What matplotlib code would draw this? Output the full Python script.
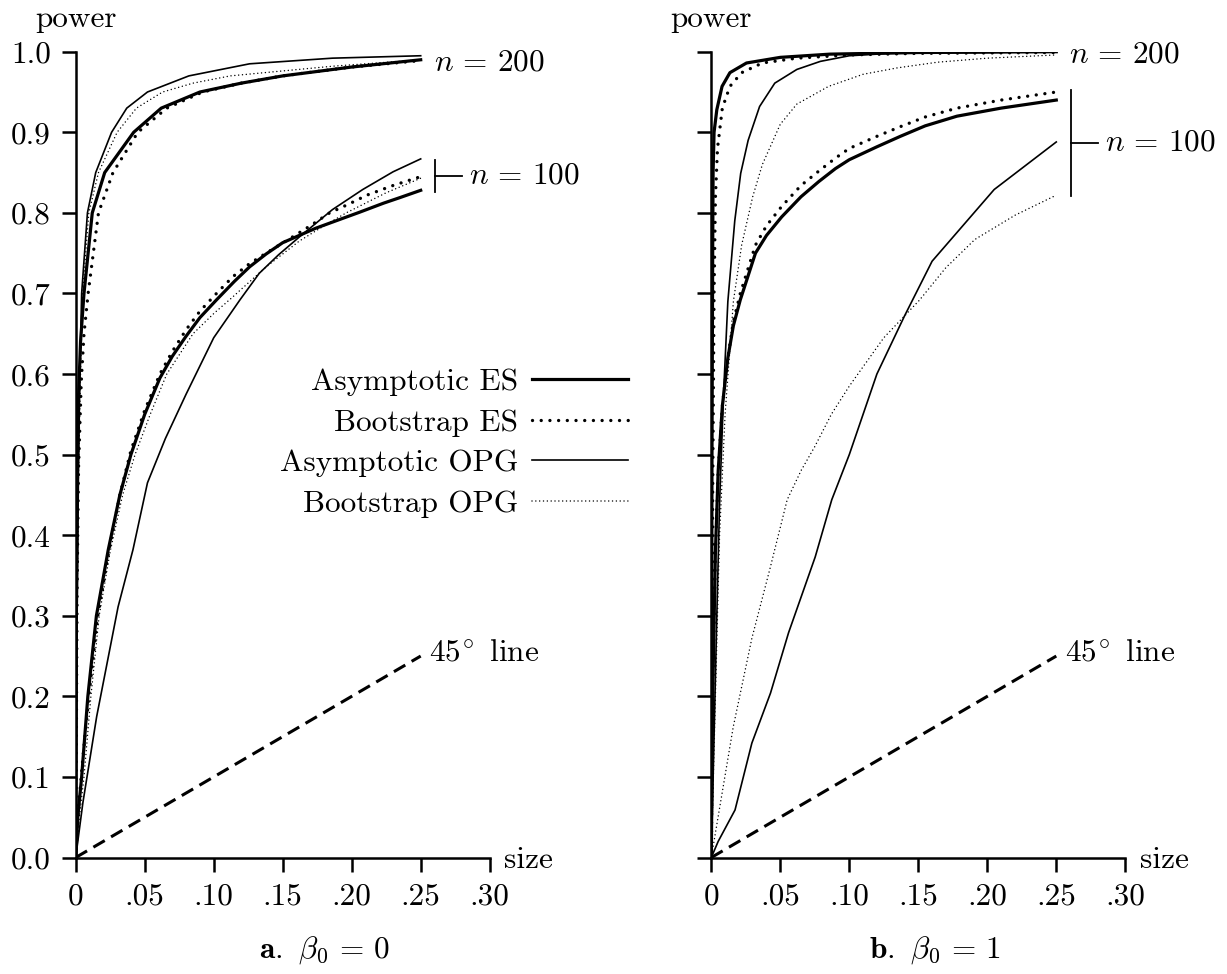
import matplotlib
matplotlib.use("Agg")
import matplotlib.pyplot as plt

# Computer Modern look (fonts bundled with matplotlib)
plt.rcParams["font.family"] = "serif"
plt.rcParams["font.serif"] = ["cmr10"]
plt.rcParams["mathtext.fontset"] = "cm"
plt.rcParams["axes.formatter.use_mathtext"] = True

FS = 22.5

# ---------------- panel a: beta0 = 0 ----------------
# n = 200
a0_es200_x = [0, 0.0005, 0.001, 0.002, 0.0035, 0.006, 0.012, 0.021, 0.042, 0.062, 0.090, 0.12, 0.15, 0.20, 0.25]
a0_es200_y = [0, 0.30, 0.45, 0.57, 0.64, 0.70, 0.80, 0.85, 0.90, 0.93, 0.95, 0.961, 0.97, 0.981, 0.990]
b0_es200_x = [0, 0.001, 0.002, 0.004, 0.006, 0.009, 0.0165, 0.027, 0.045, 0.066, 0.092, 0.12, 0.15, 0.20, 0.25]
b0_es200_y = [0, 0.33, 0.48, 0.59, 0.65, 0.70, 0.80, 0.85, 0.90, 0.93, 0.95, 0.961, 0.97, 0.981, 0.989]
a0_opg200_x = [0, 0.001, 0.002, 0.003, 0.0043, 0.0085, 0.0145, 0.026, 0.037, 0.052, 0.082, 0.126, 0.186, 0.25]
a0_opg200_y = [0, 0.30, 0.48, 0.60, 0.70, 0.80, 0.85, 0.90, 0.93, 0.95, 0.97, 0.985, 0.992, 0.995]
b0_opg200_x = [0, 0.001, 0.002, 0.0035, 0.005, 0.0095, 0.0165, 0.030, 0.044, 0.063, 0.085, 0.112, 0.186, 0.25]
b0_opg200_y = [0, 0.30, 0.47, 0.60, 0.70, 0.80, 0.85, 0.90, 0.93, 0.95, 0.961, 0.97, 0.982, 0.990]
# n = 100
a0_es100_x = [0, 0.0015, 0.0043, 0.0088, 0.015, 0.0236, 0.032, 0.04, 0.05, 0.061, 0.07, 0.08, 0.09, 0.102, 0.115, 0.126,
              0.138, 0.15, 0.162, 0.174, 0.19, 0.206, 0.223, 0.235, 0.25]
a0_es100_y = [0, 0.05, 0.10, 0.20, 0.30, 0.382, 0.45, 0.50, 0.55, 0.595, 0.622, 0.647, 0.67, 0.692, 0.715, 0.733,
              0.749, 0.763, 0.772, 0.781, 0.791, 0.801, 0.812, 0.819, 0.828]
b0_es100_x = [0, 0.002, 0.005, 0.0095, 0.016, 0.024, 0.032, 0.04, 0.05, 0.061, 0.07, 0.08, 0.09, 0.102, 0.114, 0.126,
              0.138, 0.157, 0.17, 0.184, 0.198, 0.211, 0.23, 0.25]
b0_es100_y = [0, 0.06, 0.12, 0.20, 0.30, 0.38, 0.45, 0.505, 0.555, 0.600, 0.628, 0.655, 0.678, 0.70, 0.721, 0.737,
              0.75, 0.77, 0.784, 0.80, 0.811, 0.822, 0.834, 0.845]
a0_opg100_x = [0, 0.0052, 0.0152, 0.0307, 0.0415, 0.052, 0.065, 0.08, 0.10, 0.119, 0.133, 0.147, 0.162, 0.186, 0.208,
               0.23, 0.25]
a0_opg100_y = [0, 0.068, 0.175, 0.311, 0.382, 0.465, 0.52, 0.575, 0.645, 0.692, 0.725, 0.748, 0.77, 0.804, 0.829,
               0.851, 0.867]
b0_opg100_x = [0, 0.002, 0.006, 0.011, 0.017, 0.025, 0.034, 0.043, 0.054, 0.066, 0.085, 0.10, 0.114, 0.138, 0.162,
               0.18, 0.196, 0.225, 0.25]
b0_opg100_y = [0, 0.04, 0.10, 0.20, 0.30, 0.38, 0.45, 0.50, 0.55, 0.60, 0.65, 0.675, 0.696, 0.733, 0.765, 0.784,
               0.80, 0.825, 0.843]

# ---------------- panel b: beta0 = 1 ----------------
# n = 200
a1_es200_x = [0, 0.0005, 0.001, 0.0013, 0.002, 0.004, 0.0078, 0.0135, 0.0255, 0.05, 0.086, 0.15, 0.25]
a1_es200_y = [0, 0.50, 0.75, 0.85, 0.90, 0.928, 0.957, 0.974, 0.986, 0.993, 0.997, 0.999, 1.0]
b1_es200_x = [0, 0.001, 0.002, 0.003, 0.0045, 0.008, 0.0135, 0.022, 0.037, 0.062, 0.10, 0.15, 0.25]
b1_es200_y = [0, 0.45, 0.70, 0.82, 0.88, 0.93, 0.957, 0.974, 0.986, 0.992, 0.996, 0.998, 0.999]
a1_opg200_x = [0, 0.002, 0.004, 0.006, 0.009, 0.012, 0.017, 0.0213, 0.0267, 0.035, 0.046, 0.062, 0.079, 0.10, 0.13, 0.25]
a1_opg200_y = [0, 0.15, 0.30, 0.44, 0.58, 0.69, 0.79, 0.849, 0.89, 0.932, 0.961, 0.978, 0.988, 0.995, 0.998, 1.0]
b1_opg200_x = [0, 0.003, 0.006, 0.01, 0.016, 0.022, 0.03, 0.037, 0.05, 0.062, 0.085, 0.11, 0.135, 0.164, 0.20, 0.25]
b1_opg200_y = [0, 0.20, 0.40, 0.55, 0.69, 0.76, 0.82, 0.86, 0.91, 0.935, 0.957, 0.972, 0.980, 0.987, 0.992, 0.996]
# n = 100
a1_es100_x = [0, 0.001, 0.003, 0.005, 0.008, 0.012, 0.016, 0.021, 0.032, 0.04, 0.051, 0.065, 0.078, 0.09, 0.10, 0.12,
              0.137, 0.155, 0.178, 0.21, 0.23, 0.25]
a1_es100_y = [0, 0.20, 0.38, 0.48, 0.56, 0.62, 0.66, 0.692, 0.75, 0.772, 0.795, 0.82, 0.839, 0.855, 0.866, 0.882,
              0.895, 0.908, 0.92, 0.93, 0.935, 0.94]
b1_es100_x = [0, 0.001, 0.003, 0.005, 0.008, 0.012, 0.016, 0.021, 0.032, 0.04, 0.051, 0.065, 0.078, 0.09, 0.10, 0.12,
              0.137, 0.155, 0.178, 0.21, 0.23, 0.25]
b1_es100_y = [0, 0.20, 0.38, 0.48, 0.56, 0.62, 0.665, 0.70, 0.76, 0.784, 0.808, 0.834, 0.852, 0.868, 0.88, 0.895,
              0.907, 0.919, 0.93, 0.94, 0.945, 0.95]
a1_opg100_x = [0, 0.005, 0.0172, 0.0294, 0.0429, 0.056, 0.0753, 0.0873, 0.10, 0.12, 0.14, 0.16, 0.205, 0.25]
a1_opg100_y = [0, 0.02, 0.059, 0.142, 0.204, 0.279, 0.373, 0.444, 0.50, 0.60, 0.672, 0.74, 0.829, 0.888]
b1_opg100_x = [0, 0.0049, 0.0159, 0.0294, 0.0429, 0.055, 0.065, 0.075, 0.087, 0.10, 0.125, 0.151, 0.17, 0.191, 0.22, 0.25]
b1_opg100_y = [0, 0.05, 0.162, 0.272, 0.361, 0.444, 0.48, 0.51, 0.55, 0.585, 0.645, 0.692, 0.732, 0.767, 0.797, 0.822]

diag_x = [0, 0.25]
diag_y = [0, 0.25]

x_ticks = [0, 0.05, 0.10, 0.15, 0.20, 0.25, 0.30]
x_ticklabels = ["0", ".05", ".10", ".15", ".20", ".25", ".30"]
y_ticks = [0.0, 0.1, 0.2, 0.3, 0.4, 0.5, 0.6, 0.7, 0.8, 0.9, 1.0]
y_ticklabels = ["0.0", "0.1", "0.2", "0.3", "0.4", "0.5", "0.6", "0.7", "0.8", "0.9", "1.0"]

STYLES = {
    "a_es": dict(color="black", lw=2.3, ls="-"),
    "b_es": dict(color="black", lw=2.4, ls=(0, (0.01, 2.6)), dash_capstyle="round"),
    "a_opg": dict(color="black", lw=1.2, ls="-"),
    "b_opg": dict(color="black", lw=1.1, ls=(0, (0.01, 2.5)), dash_capstyle="round"),
}
LABELS = {
    "a_es": "Asymptotic ES",
    "b_es": "Bootstrap ES",
    "a_opg": "Asymptotic OPG",
    "b_opg": "Bootstrap OPG",
}

panels = [
    {
        "n200": {"a_es": (a0_es200_x, a0_es200_y), "b_es": (b0_es200_x, b0_es200_y),
                 "a_opg": (a0_opg200_x, a0_opg200_y), "b_opg": (b0_opg200_x, b0_opg200_y)},
        "n100": {"a_es": (a0_es100_x, a0_es100_y), "b_es": (b0_es100_x, b0_es100_y),
                 "a_opg": (a0_opg100_x, a0_opg100_y), "b_opg": (b0_opg100_x, b0_opg100_y)},
        "lab200_y": 0.986, "br_lo": 0.826, "br_hi": 0.866, "br_mid": 0.846,
        "title": r"$\mathbf{a.}$ $\beta_0\,=\,0$", "title_x": 0.60,
    },
    {
        "n200": {"a_es": (a1_es200_x, a1_es200_y), "b_es": (b1_es200_x, b1_es200_y),
                 "a_opg": (a1_opg200_x, a1_opg200_y), "b_opg": (b1_opg200_x, b1_opg200_y)},
        "n100": {"a_es": (a1_es100_x, a1_es100_y), "b_es": (b1_es100_x, b1_es100_y),
                 "a_opg": (a1_opg100_x, a1_opg100_y), "b_opg": (b1_opg100_x, b1_opg100_y)},
        "lab200_y": 0.997, "br_lo": 0.821, "br_hi": 0.953, "br_mid": 0.887,
        "title": r"$\mathbf{b.}$ $\beta_0\,=\,1$", "title_x": 0.54,
    },
]

fig = plt.figure(figsize=(12.27, 9.74), dpi=100)
axes = [fig.add_axes([0.0617, 0.1196, 0.3374, 0.8273]),
        fig.add_axes([0.5797, 0.1196, 0.3374, 0.8273])]

for i, (ax, p) in enumerate(zip(axes, panels)):
    handles = []
    for key in ["a_es", "b_es", "a_opg", "b_opg"]:
        x, y = p["n200"][key]
        (h,) = ax.plot(x, y, label=LABELS[key], **STYLES[key])
        handles.append(h)
        x, y = p["n100"][key]
        ax.plot(x, y, **STYLES[key])

    # 45 degree line
    ax.plot(diag_x, diag_y, color="black", lw=2.2, ls=(0, (4.3, 2.4)))
    ax.text(0.256, 0.255, r"$45^{\!\circ}$ line", fontsize=FS, va="center", ha="left")

    # n labels and bracket
    ax.text(0.2595, p["lab200_y"], r"$n\,=\,200$", fontsize=FS, va="center", ha="left")
    ax.plot([0.2605, 0.2605], [p["br_lo"], p["br_hi"]], color="black", lw=1.3, clip_on=False)
    ax.plot([0.2605, 0.2800], [p["br_mid"], p["br_mid"]], color="black", lw=1.3, clip_on=False)
    ax.text(0.2850, p["br_mid"], r"$n\,=\,100$", fontsize=FS, va="center", ha="left")

    ax.set_xlim(0, 0.30)
    ax.set_ylim(0, 1.0)
    for s in ["top", "right"]:
        ax.spines[s].set_visible(False)
    for s in ["left", "bottom"]:
        ax.spines[s].set_linewidth(1.8)
    ax.set_xticks(x_ticks)
    ax.set_xticklabels(x_ticklabels)
    ax.set_yticks(y_ticks)
    if i == 0:
        ax.set_yticklabels(y_ticklabels)
    else:
        ax.set_yticklabels([])
    ax.tick_params(direction="out", length=10, width=1.8, labelsize=FS, pad=8)

    ax.text(0.0, 1.031, "power", fontsize=FS, transform=ax.transAxes, ha="center", va="baseline")
    ax.text(1.035, -0.013, "size", fontsize=FS, transform=ax.transAxes, ha="left", va="baseline")
    ax.text(p["title_x"], -0.115, p["title"], fontsize=FS, transform=ax.transAxes, ha="center", va="center")

    if i == 0:
        ax.legend(handles=handles, loc="upper right", bbox_to_anchor=(1.333, 0.607),
                  frameon=False, markerfirst=False, handlelength=3.05,
                  handletextpad=0.45, labelspacing=0.4, borderpad=0,
                  borderaxespad=0, fontsize=FS)

fig.savefig("out.png", dpi=100)
